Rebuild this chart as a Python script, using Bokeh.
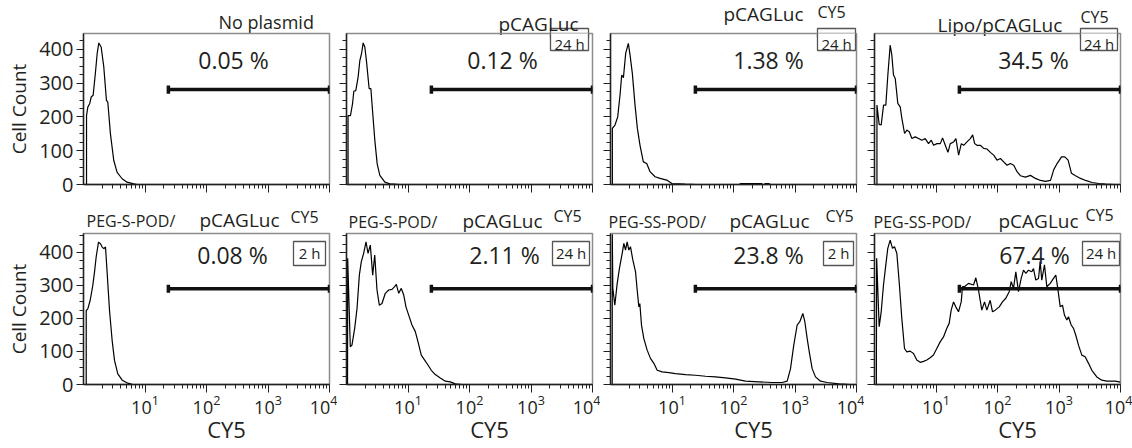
from bokeh.plotting import figure
from bokeh.models import (Label, FixedTicker, CustomJSTickFormatter, Range1d, LogTickFormatter,
                          ColumnDataSource)
from bokeh.core.properties import value
from bokeh.layouts import column, row
from bokeh.embed import file_html
from bokeh.resources import INLINE

FONT = "Open Sans"
INK = "#231f20"

# ---------------- data (CY5 intensity, cell count) ----------------
no_plasmid_x = [1.12, 1.12, 1.175, 1.259, 1.334, 1.435, 1.567, 1.667, 1.774, 1.936, 2.138, 2.36, 2.483,
                2.742, 3.105, 3.524, 4.246, 5.117, 6.561, 7.413, 10000]
no_plasmid_y = [0, 204, 229, 239, 259, 264, 333, 387, 419, 407, 348, 249, 244,
                150, 71, 36, 17, 7, 2, 0, 0]

pcag_x = [1.06, 1.06, 1.16, 1.253, 1.315, 1.416, 1.545, 1.648, 1.754, 1.866, 1.986, 2.118, 2.333, 2.489,
          2.649, 2.891, 3.155, 3.483, 4.207, 5.07, 7.379, 10000]
pcag_y = [0, 204, 204, 239, 276, 278, 318, 367, 387, 419, 407, 363, 284, 284,
          219, 130, 61, 27, 7, 2, 0, 0]

pcag24_x = [1.072, 1.072, 1.183, 1.309, 1.429, 1.521, 1.622, 1.766, 1.95, 2.08, 2.265, 2.506, 2.735,
            3.02, 3.42, 3.882, 4.395, 5.309, 6.397, 8.222, 9.931, 16.22, 25.1, 123, 132, 282, 302,
            316, 331, 372, 398, 10000]
pcag24_y = [0, 166, 176, 200, 265, 324, 316, 388, 418, 383, 329, 235, 166,
            116, 67, 62, 38, 23, 18, 13, 3, 1, 0, 0, 3, 3, 0,
            0, 3, 3, 0, 0]

lipo_x = [1.096, 1.096, 1.191, 1.285, 1.403, 1.528, 1.648, 1.799, 1.914, 2.037,
          2.173, 2.393, 2.618, 2.786, 3.083, 3.357, 3.673, 4.055, 4.592, 5.212,
          5.902, 6.683, 7.568, 8.375, 9.141, 10.35, 11.75, 12.79, 14.16, 15.63,
          17.06, 19.36, 21.09, 23.33, 25.82, 28.18, 31.92, 36.14, 39.45, 42.56,
          46.34, 52.6, 59.57, 67.45, 76.56, 86.7, 98.2, 111.4, 126.2, 142.9,
          162.2, 183.7, 208, 235.5, 284.4, 343.6, 414, 500, 602.6, 727.8,
          822.2, 931.1, 1099, 1242, 1406, 1596, 1854, 2239, 2698, 3467,
          4446, 5715, 7943, 10000]
lipo_y = [0, 235, 178, 176, 235, 235, 324, 413, 383, 324,
          314, 240, 230, 196, 151, 161, 156, 136, 141, 136,
          131, 136, 121, 131, 116, 121, 121, 138, 116, 95,
          121, 126, 136, 87, 121, 116, 126, 136, 147, 121,
          116, 116, 107, 105, 95, 87, 72, 77, 67, 57,
          62, 57, 38, 26, 22, 27, 18, 12, 9, 12,
          44, 62, 82, 82, 72, 33, 26, 18, 12, 6,
          3, 1, 0, 0]

s_pod2_x = [1.107, 1.107, 1.175, 1.285, 1.416, 1.51, 1.607, 1.754, 1.888, 2.014, 2.138, 2.28, 2.393,
            2.649, 2.924, 3.192, 3.614, 4.256, 5.248, 6.339, 10000]
s_pod2_y = [0, 224, 229, 255, 300, 340, 386, 431, 426, 416, 411, 416, 355,
            224, 133, 73, 32, 13, 4, 0, 0]

s_pod24_x = [1.04, 1.045, 1.153, 1.227, 1.358, 1.483, 1.618, 1.742, 1.901, 2.075,
             2.239, 2.438, 2.667, 2.877, 3.133, 3.42, 3.776, 4.276, 4.853, 5.495,
             6.067, 6.457, 7.063, 7.78, 8.511, 9.268, 10.26, 11.61, 13.15, 14.55,
             16.44, 18.66, 21.13, 23.93, 27.8, 33.5, 40.46, 48.75, 58.75, 75.51, 10000]
s_pod24_y = [0, 382, 114, 119, 170, 230, 331, 372, 397, 432,
             397, 422, 331, 392, 286, 240, 245, 276, 286, 288,
             296, 303, 276, 291, 271, 235, 210, 180, 160, 129,
             89, 74, 59, 43, 30, 20, 10, 8, 2, 0, 0]

ss_pod2_x = [1.065, 1.07, 1.091, 1.175, 1.285, 1.4, 1.549, 1.648, 1.754, 1.866,
             1.986, 2.113, 2.307, 2.553, 2.716, 2.891, 2.999, 3.192, 3.483, 3.945,
             4.467, 5.07, 5.741, 6.918, 8.892, 11.4, 16.6, 24.1, 35.08, 50.93,
             74.13, 107.9, 156.7, 258.2, 425.6, 619.4, 746.4, 845.3, 955, 1084,
             1197, 1340, 1445, 1578, 1722, 1901, 2153, 2600, 3334, 5164, 7943]
ss_pod2_y = [0, 455, 291, 240, 306, 352, 397, 427, 407, 432,
             407, 417, 377, 341, 286, 235, 245, 180, 139, 104,
             79, 64, 43, 38, 36, 33, 30, 28, 25, 23,
             20, 16, 10, 8, 6, 6, 10, 48, 119, 180,
             190, 215, 190, 139, 94, 48, 23, 10, 6, 2, 0]

ss_pod24_x = [1.072, 1.084, 1.191, 1.285, 1.4, 1.528, 1.644, 1.799, 1.963, 2.113,
              2.307, 2.518, 2.78, 3.076, 3.35, 3.802, 4.305, 4.875, 5.534, 6.266,
              7.096, 8.035, 9.1, 10.3, 11.69, 13.24, 15.0, 16.37, 17.66, 19.28,
              20.99, 23.23, 25.7, 26.98, 29.04, 33.73, 40.74, 44.46, 49.09, 55.59,
              61.52, 67.14, 76.03, 82.99, 91.83, 106.7, 120.5, 136.5, 154.9, 167.1,
              182, 198.6, 219.3, 242.7, 264.9, 289.1, 319.2, 361.4, 384.6, 419.8,
              464.5, 494.3, 524.8, 580.8, 633.9, 719.5, 814.7, 887.2, 955, 1047,
              1140, 1227, 1340, 1426, 1578, 1722, 1875, 2075, 2350, 2661,
              3020, 3420, 4121, 4966, 5998, 8204, 10000]
ss_pod24_y = [0, 382, 175, 220, 301, 362, 412, 437, 412, 417,
              397, 311, 200, 109, 99, 101, 94, 74, 67, 70,
              74, 81, 89, 109, 129, 144, 170, 185, 225, 250,
              235, 220, 250, 296, 296, 306, 301, 323, 286, 225,
              250, 225, 255, 220, 225, 235, 250, 261, 281, 311,
              291, 341, 281, 321, 346, 336, 346, 341, 351, 316,
              321, 372, 316, 362, 296, 306, 321, 331, 291, 235,
              240, 210, 195, 205, 180, 170, 149, 119, 89, 84,
              64, 43, 23, 13, 10, 10, 7]

percents = ["0.05 %", "0.12 %", "1.38 %", "34.5 %", "0.08 %", "2.11 %", "23.8 %", "67.4 %"]
hours = [None, "24 h", "24 h", "24 h", "2 h", "24 h", "2 h", "24 h"]
gate_low = [24, 24, 24, 24, 24, 24, 24, 24]
gate_level = [281, 281, 281, 281, 290, 290, 290, 290]
y_ticks = [0, 100, 200, 300, 400]
x_decades = [10, 100, 1000, 10000]
x_title = "CY5"
y_title = "Cell Count"

series = [(no_plasmid_x, no_plasmid_y), (pcag_x, pcag_y), (pcag24_x, pcag24_y), (lipo_x, lipo_y),
          (s_pod2_x, s_pod2_y), (s_pod24_x, s_pod24_y), (ss_pod2_x, ss_pod2_y), (ss_pod24_x, ss_pod24_y)]

# panel headings: (text, px from frame left, baseline px from page top, font px)
headings = [
    [("No plasmid", 135, 28, 18)],
    [("pCAGLuc", 152, 31, 19)],
    [("pCAGLuc", 113, 20.8, 19), ("CY5", 207, 17.5, 16)],
    [("Lipo/pCAGLuc", 63, 32, 19), ("CY5", 206, 23, 16)],
    [("PEG-S-POD/", 3, 227, 16), ("pCAGLuc", 116, 227, 19), ("CY5", 207, 223, 16)],
    [("PEG-S-POD/", 2, 228, 16), ("pCAGLuc", 116, 228, 19), ("CY5", 207, 222, 16)],
    [("PEG-SS-POD/", -2, 228, 16), ("pCAGLuc", 119, 228, 19), ("CY5", 215, 222, 16)],
    [("PEG-SS-POD/", -1, 228, 16), ("pCAGLuc", 124, 228, 19), ("CY5", 211, 220.5, 16)],
]
pct_pos = [150, 156, 158, 159, 149, 158, 158, 160]   # px from frame left (centre of % text)
# time boxes: (gap to frame right, width, top rel. frame top, height, text centre rel. frame top) in px
box_geom = [None, (4, 38, -5, 22, 10.8), (1, 38, -5, 22, 10.8), (3, 37, -5, 22, 10.8),
            (4, 32, 8, 24, 19), (3, 37, 8, 24, 19), (3, 30, 8, 24, 19), (1, 37, 8, 24, 19)]

# ---------------- layout (page pixels) ----------------
PAGE_W = 1132
FRAME_W, FRAME_H = 246, 151
COL_LEFT = [83, 9, 10, 10]
COL_RIGHT = [8, 8, 8, 12]
FIG_W = [COL_LEFT[c] + FRAME_W + COL_RIGHT[c] for c in range(4)]
FRAME_LEFT = [sum(FIG_W[:c]) + COL_LEFT[c] for c in range(4)]
ROW_TOP = [1, 1]
ROW_BOTTOM = [21, 36]
YMAX = [447, 457]
PCT_DY = [-26, -21]
MID = 0.388   # distance from baseline to the middle of the text box, in em
# strips / rows stacked with small negative margins so texts are never clipped
H1_TOP, H1_H = 0, 38
R1_TOP = 32
R1_H = ROW_TOP[0] + FRAME_H + ROW_BOTTOM[0]
H2_TOP, H2_H = R1_TOP + R1_H - 4, 37
R2_TOP = H2_TOP + H2_H - 6
R2_H = ROW_TOP[1] + FRAME_H + ROW_BOTTOM[1]
F_TOP, F_H = R2_TOP + R2_H - 8, 32
ROW_TOPS = [R1_TOP, R2_TOP]

empty_fmt = "return ''"


def px_to_x(px):
    return 10 ** (4.0 * px / FRAME_W)


def strip(height, margin_top):
    s = figure(width=PAGE_W, height=height, x_range=Range1d(0, PAGE_W), y_range=Range1d(height, 0),
               x_axis_location=None, y_axis_location=None, title_location=None, min_border=0,
               margin=(margin_top, 0, 0, 0), output_backend="svg", toolbar_location=None)
    s.grid.visible = False
    s.outline_line_color = None
    s.background_fill_alpha = 0
    s.border_fill_alpha = 0
    return s


def heading_strip(r, top, height, margin_top):
    s = strip(height, margin_top)
    # upper part of time boxes that stick out above the frame
    frame_top = ROW_TOPS[r] + ROW_TOP[r]
    for c in range(4):
        g = box_geom[r * 4 + c]
        if g and g[2] < 0:
            gap, w, btop, h, _ = g
            right = FRAME_LEFT[c] + FRAME_W - gap
            s.quad(left=[right - w], right=[right], top=[frame_top + btop - top],
                   bottom=[frame_top + btop + h - top], fill_color="white",
                   line_color="#555555", line_width=1.3)
    xs, ys, ts, fs = [], [], [], []
    for c in range(4):
        for txt, dx, base, size in headings[r * 4 + c]:
            xs.append(FRAME_LEFT[c] + dx)
            ys.append(base - top - MID * size)
            ts.append(txt)
            fs.append(f"{size}px")
    src = ColumnDataSource(dict(x=xs, y=ys, text=ts, size=fs))
    s.text(x="x", y="y", text="text", source=src, text_font=value(FONT), text_font_size="size",
           text_color=INK, text_align="left", text_baseline="middle")
    return s


def make_panel(r, c):
    i = r * 4 + c
    ymax = YMAX[r]
    p = figure(x_axis_type="log", x_range=Range1d(1, 10000), y_range=Range1d(0, ymax),
               frame_width=FRAME_W, frame_height=FRAME_H, title_location=None,
               min_border_left=COL_LEFT[c], min_border_right=COL_RIGHT[c],
               min_border_top=ROW_TOP[r], min_border_bottom=ROW_BOTTOM[r],
               output_backend="svg", toolbar_location=None)
    p.grid.visible = False
    p.background_fill_alpha = 0
    p.border_fill_alpha = 0
    p.outline_line_color = "#8c8c8c"
    p.outline_line_width = 1.5

    minor_x = [k * d for d in [1, 10, 100, 1000] for k in range(2, 10)]
    xa = p.xaxis[0]
    xa.ticker = FixedTicker(ticks=x_decades, minor_ticks=minor_x)
    xa.major_tick_out = 8
    xa.major_tick_in = 0
    xa.minor_tick_out = 4
    xa.minor_tick_in = 0
    xa.axis_line_color = INK
    xa.axis_line_width = 1.6
    xa.major_tick_line_color = INK
    xa.minor_tick_line_color = INK
    if r == 1:
        xa.formatter = LogTickFormatter()
        xa.major_label_text_font = FONT
        xa.major_label_text_font_size = "18px"
        xa.major_label_text_color = INK
        xa.major_label_standoff = 2
    else:
        xa.formatter = CustomJSTickFormatter(code=empty_fmt)
        xa.major_label_text_font_size = "0px"

    ya = p.yaxis[0]
    ya.ticker = FixedTicker(ticks=y_ticks, minor_ticks=list(range(0, ymax, 25)))
    ya.major_tick_out = 7
    ya.major_tick_in = 0
    ya.minor_tick_out = 4
    ya.minor_tick_in = 0
    ya.axis_line_color = INK
    ya.axis_line_width = 1.4
    ya.major_tick_line_color = INK
    ya.minor_tick_line_color = INK
    if c == 0:
        ya.major_label_text_font = FONT
        ya.major_label_text_font_size = "20px"
        ya.major_label_text_color = INK
        ya.major_label_standoff = 3
        ya.axis_label = y_title
        ya.axis_label_text_font = FONT
        ya.axis_label_text_font_size = "19px"
        ya.axis_label_text_font_style = "normal"
        ya.axis_label_text_color = INK
        ya.axis_label_standoff = 4
    else:
        ya.formatter = CustomJSTickFormatter(code=empty_fmt)
        ya.major_label_text_font_size = "0px"

    xs, ys = series[i]
    p.line(xs, ys, line_color="black", line_width=1.2)

    # gate marker
    gl, gy = gate_low[i], gate_level[i]
    p.segment(x0=[gl], y0=[gy], x1=[10000], y1=[gy], line_color="#111111", line_width=3.5)
    p.segment(x0=[gl, 10000], y0=[gy - 12, gy - 12], x1=[gl, 10000], y1=[gy + 12, gy + 12],
              line_color="#111111", line_width=3.5)

    # percent inside the gate
    p.add_layout(Label(x=px_to_x(pct_pos[i]), y=ymax, y_offset=PCT_DY[r], text=percents[i],
                       text_font=FONT, text_font_size="23px", text_color=INK,
                       text_align="center", text_baseline="middle"))

    # time box
    g = box_geom[i]
    if g:
        gap, w, top, h, tc = g

        def ydat(off):
            return ymax * (1 - off / FRAME_H)
        p.quad(left=[px_to_x(FRAME_W - gap - w)], right=[px_to_x(FRAME_W - gap)],
               top=[ydat(top)], bottom=[ydat(top + h)], fill_color="white",
               line_color="#555555", line_width=1.3)
        p.text(x=[px_to_x(FRAME_W - gap - w / 2)], y=[ydat(tc)], text=[hours[i]],
               text_font=value(FONT), text_font_size=value("15px"), text_color=INK,
               text_align="center", text_baseline="middle")
    return p


def footer_strip(top, height, margin_top):
    s = strip(height, margin_top)
    size = 22
    s.text(x=[FRAME_LEFT[c] + FRAME_W / 2 + 20 for c in range(4)], y=[437 - top - MID * size] * 4,
           text=[x_title] * 4, text_font=value(FONT), text_font_size=value(f"{size}px"), text_color=INK,
           text_align="center", text_baseline="middle")
    return s


layout = column(
    heading_strip(0, H1_TOP, H1_H, 0),
    row(*[make_panel(0, c) for c in range(4)], margin=(R1_TOP - (H1_TOP + H1_H), 0, 0, 0)),
    heading_strip(1, H2_TOP, H2_H, H2_TOP - (R1_TOP + R1_H)),
    row(*[make_panel(1, c) for c in range(4)], margin=(R2_TOP - (H2_TOP + H2_H), 0, 0, 0)),
    footer_strip(F_TOP, F_H, F_TOP - (R2_TOP + R2_H)),
)

open("out.html", "w").write(file_html(layout, INLINE))
